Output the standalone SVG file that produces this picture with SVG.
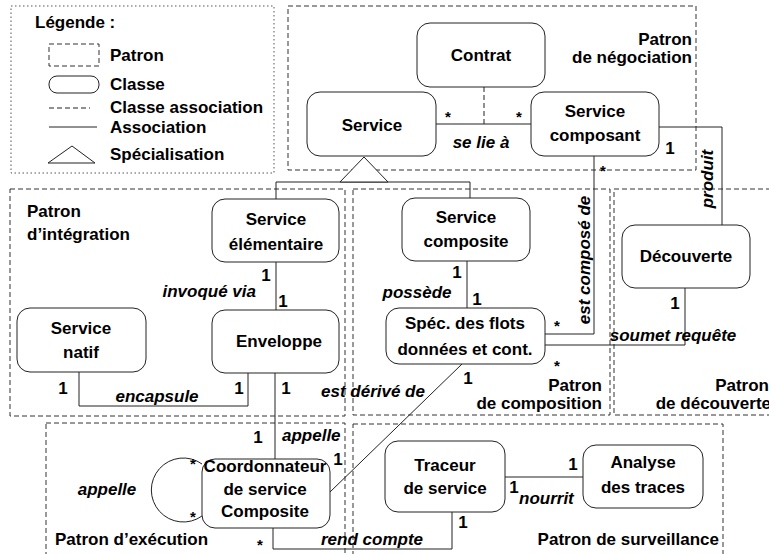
<svg xmlns="http://www.w3.org/2000/svg" width="769" height="554" viewBox="0 0 769 554">
<style>
text{font-family:"Liberation Sans",Arial,sans-serif;font-size:17px;font-weight:bold;fill:#000}
.i{font-style:italic}
.m{text-anchor:middle}
.e{text-anchor:end}
.s{font-size:15px}
.patron{fill:none;stroke:#333;stroke-width:1;stroke-dasharray:5,3}
.leg{fill:none;stroke:#555;stroke-width:1;stroke-dasharray:1.5,2.5}
.cls{fill:#fff;stroke:#222;stroke-width:1}
.ln{fill:none;stroke:#222;stroke-width:1}
.dl{fill:none;stroke:#222;stroke-width:1;stroke-dasharray:5,3}
</style>
<rect width="769" height="554" fill="#fff"/>
<g id="legende">
<rect class="leg" x="11" y="6" width="263" height="167"/>
<text x="35" y="28">Légende :</text>
<rect class="patron" x="49" y="44" width="50" height="22"/>
<text x="110" y="61">Patron</text>
<rect class="cls" x="49" y="76" width="50" height="17" rx="8"/>
<text x="110" y="90">Classe</text>
<line class="dl" x1="49" y1="108" x2="90" y2="108"/>
<text x="110" y="113">Classe association</text>
<line class="ln" x1="49" y1="127" x2="97" y2="127"/>
<text x="110" y="133">Association</text>
<polygon class="ln" points="72,146 48,163 95,163"/>
<text x="110" y="160">Spécialisation</text>
</g>
<g id="patrons">
<rect class="patron" x="288" y="6" width="408" height="164"/>
<text class="e" x="692" y="45">Patron</text>
<text class="e" x="692" y="63">de négociation</text>
<rect class="patron" x="10" y="189" width="335" height="227"/>
<text x="27" y="217">Patron</text>
<text x="27" y="240">d’intégration</text>
<rect class="patron" x="353" y="189" width="257" height="226"/>
<text class="e" x="602" y="391">Patron</text>
<text class="e" x="602" y="409">de composition</text>
<rect class="patron" x="614" y="189" width="170" height="226"/>
<text class="e" x="769" y="391">Patron</text>
<text class="e" x="771" y="409">de découverte</text>
<rect class="patron" x="46" y="423" width="299" height="140"/>
<text x="55" y="545">Patron d’exécution</text>
<rect class="patron" x="353" y="424" width="370" height="140"/>
<text class="e" x="719" y="545">Patron de surveillance</text>
</g>
<g id="connecteurs">
<line class="ln" x1="436" y1="124" x2="531" y2="124"/>
<line class="dl" x1="484" y1="87" x2="484" y2="124"/>
<polyline class="ln" points="659,127 722,127 722,225"/>
<polyline class="ln" points="594,156 594,334 545,334"/>
<polyline class="ln" points="545,345 685,345 685,288"/>
<polyline class="ln" points="276,199 276,182 470,182 470,198"/>
<polygon class="cls" points="364,157 340,182 388,182"/>
<line class="ln" x1="276" y1="262" x2="276" y2="310"/>
<polyline class="ln" points="79,372 79,406 248,406 248,373"/>
<line class="ln" x1="275" y1="373" x2="275" y2="459"/>
<line class="ln" x1="467" y1="261" x2="467" y2="308"/>
<line class="ln" x1="462" y1="364" x2="330" y2="492"/>
<path class="ln" d="M202,464 A32,32 0 1,0 202,516"/>
<polyline class="ln" points="273,528 273,549 452,549 452,512"/>
<line class="ln" x1="505" y1="477" x2="583" y2="477"/>
<text x="448" y="122" class="m s">*</text>
<text x="519" y="122" class="m s">*</text>
<text x="481" y="148" class="m i">se lie à</text>
<text x="670" y="154" class="m">1</text>
<text class="m i" transform="translate(713,179) rotate(-90)">produit</text>
<text x="603" y="176" class="m s">*</text>
<text class="m i" transform="translate(590,260) rotate(-90)">est composé de</text>
<text x="557" y="331" class="m s">*</text>
<text x="557" y="371" class="m s">*</text>
<text x="673" y="341" class="m i">soumet requête</text>
<text x="675" y="309" class="m">1</text>
<text x="266" y="281" class="m">1</text>
<text x="256" y="297" class="e i">invoqué via</text>
<text x="283" y="307" class="m">1</text>
<text x="63" y="394" class="m">1</text>
<text x="157" y="402" class="m i">encapsule</text>
<text x="239" y="394" class="m">1</text>
<text x="286" y="394" class="m">1</text>
<text x="373" y="397" class="m i">est dérivé de</text>
<text x="457" y="278" class="m">1</text>
<text x="417" y="298" class="m i">possède</text>
<text x="477" y="305" class="m">1</text>
<text x="468" y="384" class="m">1</text>
<text x="258" y="443" class="m">1</text>
<text x="282" y="441" class="i">appelle</text>
<text x="338" y="465" class="m">1</text>
<text x="193" y="469" class="m s">*</text>
<text x="193" y="522" class="m s">*</text>
<text x="107" y="495" class="m i">appelle</text>
<text x="260" y="550" class="m s">*</text>
<text x="372" y="545" class="m i">rend compte</text>
<text x="463" y="528" class="m">1</text>
<text x="573" y="470" class="m">1</text>
<text x="514" y="493" class="m">1</text>
<text x="519" y="504" class="i">nourrit</text>
</g>
<g id="contrat">
<rect class="cls" x="417" y="23" width="128" height="64" rx="13"/>
<text class="m" x="481" y="61">Contrat</text>
</g>
<g id="service">
<rect class="cls" x="307" y="92" width="129" height="64" rx="13"/>
<text class="m" x="372" y="131">Service</text>
</g>
<g id="service-composant">
<rect class="cls" x="531" y="92" width="128" height="64" rx="13"/>
<text class="m" x="595" y="117">Service</text>
<text class="m" x="595" y="141">composant</text>
</g>
<g id="service-elementaire">
<rect class="cls" x="212" y="199" width="127" height="63" rx="13"/>
<text class="m" x="276" y="225">Service</text>
<text class="m" x="276" y="250">élémentaire</text>
</g>
<g id="service-composite">
<rect class="cls" x="402" y="198" width="128" height="63" rx="13"/>
<text class="m" x="466" y="223">Service</text>
<text class="m" x="466" y="247">composite</text>
</g>
<g id="decouverte">
<rect class="cls" x="622" y="225" width="128" height="63" rx="13"/>
<text class="m" x="686" y="262">Découverte</text>
</g>
<g id="service-natif">
<rect class="cls" x="17" y="308" width="129" height="64" rx="13"/>
<text class="m" x="81" y="334">Service</text>
<text class="m" x="81" y="358">natif</text>
</g>
<g id="enveloppe">
<rect class="cls" x="212" y="310" width="127" height="63" rx="13"/>
<text class="m" x="279" y="347">Enveloppe</text>
</g>
<g id="spec-flots">
<rect class="cls" x="386" y="308" width="159" height="56" rx="13"/>
<text class="m" x="465" y="329">Spéc. des flots</text>
<text class="m" x="465" y="355">données et cont.</text>
</g>
<g id="coordonnateur">
<rect class="cls" x="202" y="459" width="128" height="69" rx="13"/>
<text class="m" x="265" y="472">Coordonnateur</text>
<text class="m" x="265" y="495">de service</text>
<text class="m" x="265" y="517">Composite</text>
</g>
<g id="traceur">
<rect class="cls" x="385" y="441" width="120" height="71" rx="13"/>
<text class="m" x="445" y="471">Traceur</text>
<text class="m" x="445" y="494">de service</text>
</g>
<g id="analyse">
<rect class="cls" x="583" y="445" width="120" height="63" rx="13"/>
<text class="m" x="643" y="468">Analyse</text>
<text class="m" x="643" y="493">des traces</text>
</g>
</svg>
